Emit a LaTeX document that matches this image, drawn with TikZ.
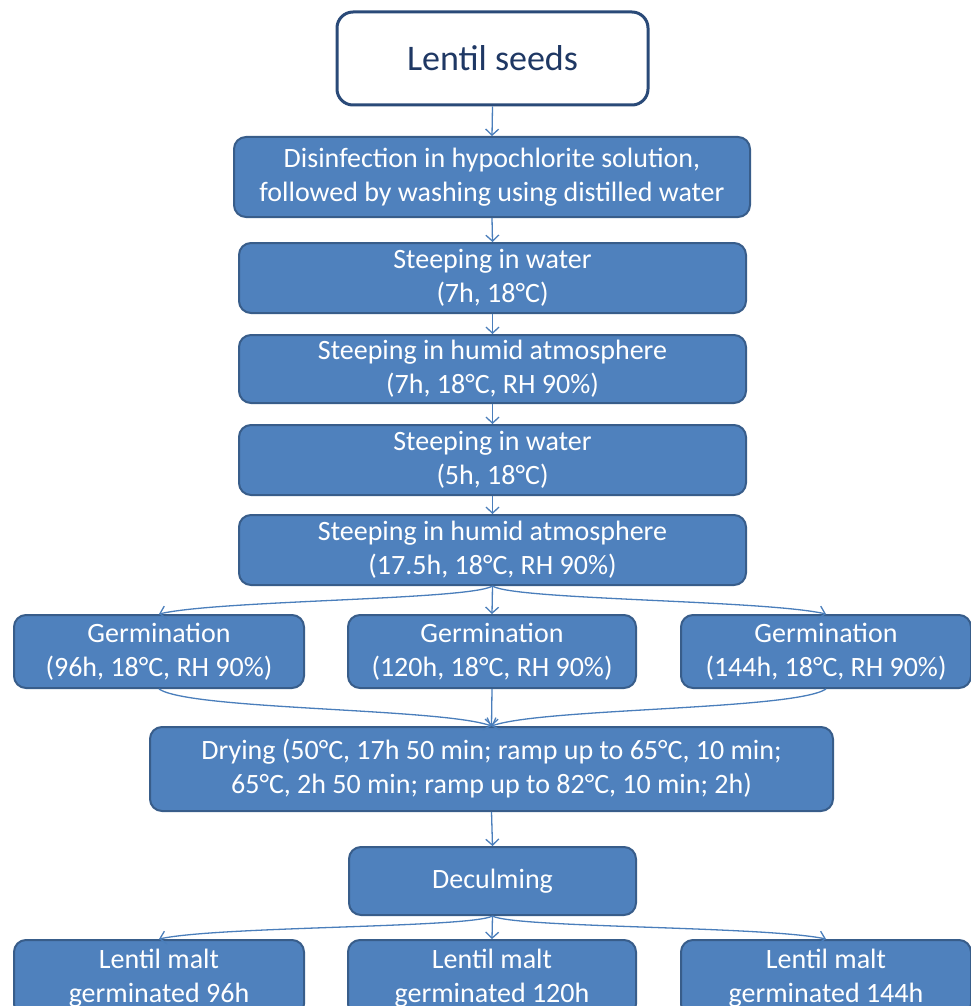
\documentclass[tikz,border=0pt]{standalone}
\usepackage{fontspec}
\setmainfont{Carlito}
\usetikzlibrary{arrows.meta}
\definecolor{boxfill}{HTML}{4F81BD}
\definecolor{boxline}{HTML}{385D8A}
\definecolor{navy}{HTML}{1F3864}
\definecolor{navyline}{HTML}{2A4A78}
\definecolor{connc}{HTML}{4A7EBB}
\begin{document}
\begin{tikzpicture}[x=1pt,y=-1pt,
  box/.style={draw=boxline, line width=2pt, fill=boxfill, rounded corners=12pt,
    text=white, font=\fontsize{28}{34}\selectfont, align=center, inner sep=0pt},
  startbox/.style={draw=navyline, line width=3pt, fill=white, rounded corners=16pt,
    text=navy, font=\fontsize{36}{42}\selectfont, align=center, inner sep=0pt},
  conn/.style={draw=connc, line width=1.3pt, -{Straight Barb[length=6pt,width=13pt]}}]
\useasboundingbox (0,0) rectangle (971,1006);
\clip (0,0) rectangle (971,1006);
% nodes
\node[startbox, minimum width=311pt, minimum height=93pt] (seeds) at (492.5,58.5) {Lentil seeds};
\node[box, minimum width=516pt, minimum height=80pt] (dis) at (492,177) {Disinfection in hypochlorite solution,\\followed by washing using distilled water};
\node[box, minimum width=507pt, minimum height=70pt] (sw1) at (492.5,278) {Steeping in water\\(7h, 18°C)};
\node[box, minimum width=507pt, minimum height=68pt] (sh1) at (492.5,369) {Steeping in humid atmosphere\\(7h, 18°C, RH 90\%)};
\node[box, minimum width=507pt, minimum height=70pt] (sw2) at (492.5,460) {Steeping in water\\(5h, 18°C)};
\node[box, minimum width=507pt, minimum height=70pt] (sh2) at (492.5,550) {Steeping in humid atmosphere\\(17.5h, 18°C, RH 90\%)};
\node[box, minimum width=290pt, minimum height=73pt] (g1) at (159,651.5) {Germination\\(96h, 18°C, RH 90\%)};
\node[box, minimum width=288pt, minimum height=73pt] (g2) at (492,651.5) {Germination\\(120h, 18°C, RH 90\%)};
\node[box, minimum width=290pt, minimum height=73pt] (g3) at (826,651.5) {Germination\\(144h, 18°C, RH 90\%)};
\node[box, minimum width=683pt, minimum height=84pt] (dry) at (491.5,769) {Drying (50°C, 17h 50 min; ramp up to 65°C, 10 min;\\65°C, 2h 50 min; ramp up to 82°C, 10 min; 2h)};
\node[box, minimum width=287pt, minimum height=68pt] (dec) at (492.5,881) {Deculming};
\node[box, minimum width=290pt, minimum height=76pt] (m1) at (159,978) {Lentil malt\\germinated 96h};
\node[box, minimum width=288pt, minimum height=76pt] (m2) at (492,978) {Lentil malt\\germinated 120h};
\node[box, minimum width=290pt, minimum height=76pt] (m3) at (826,978) {Lentil malt\\germinated 144h};
% connectors
\draw[conn] (seeds.south) -- (dis.north);
\draw[conn] (dis.south) -- (sw1.north);
\draw[conn] (sw1.south) -- (sh1.north);
\draw[conn] (sh1.south) -- (sw2.north);
\draw[conn] (sw2.south) -- (sh2.north);
\draw[conn] (sh2.south) .. controls (470,600) and (220,600) .. (g1.north);
\draw[conn] (sh2.south) -- (g2.north);
\draw[conn] (sh2.south) .. controls (514,600) and (764,600) .. (g3.north);
\draw[conn] (g1.south) .. controls (190,710) and (440,708) .. (dry.north);
\draw[conn] (g2.south) -- (dry.north);
\draw[conn] (g3.south) .. controls (794,710) and (544,708) .. (dry.north);
\draw[conn] (dry.south) -- (dec.north);
\draw[conn] (dec.south) .. controls (470,928) and (220,926) .. (m1.north);
\draw[conn] (dec.south) -- (m2.north);
\draw[conn] (dec.south) .. controls (514,928) and (764,926) .. (m3.north);
\end{tikzpicture}
\end{document}
